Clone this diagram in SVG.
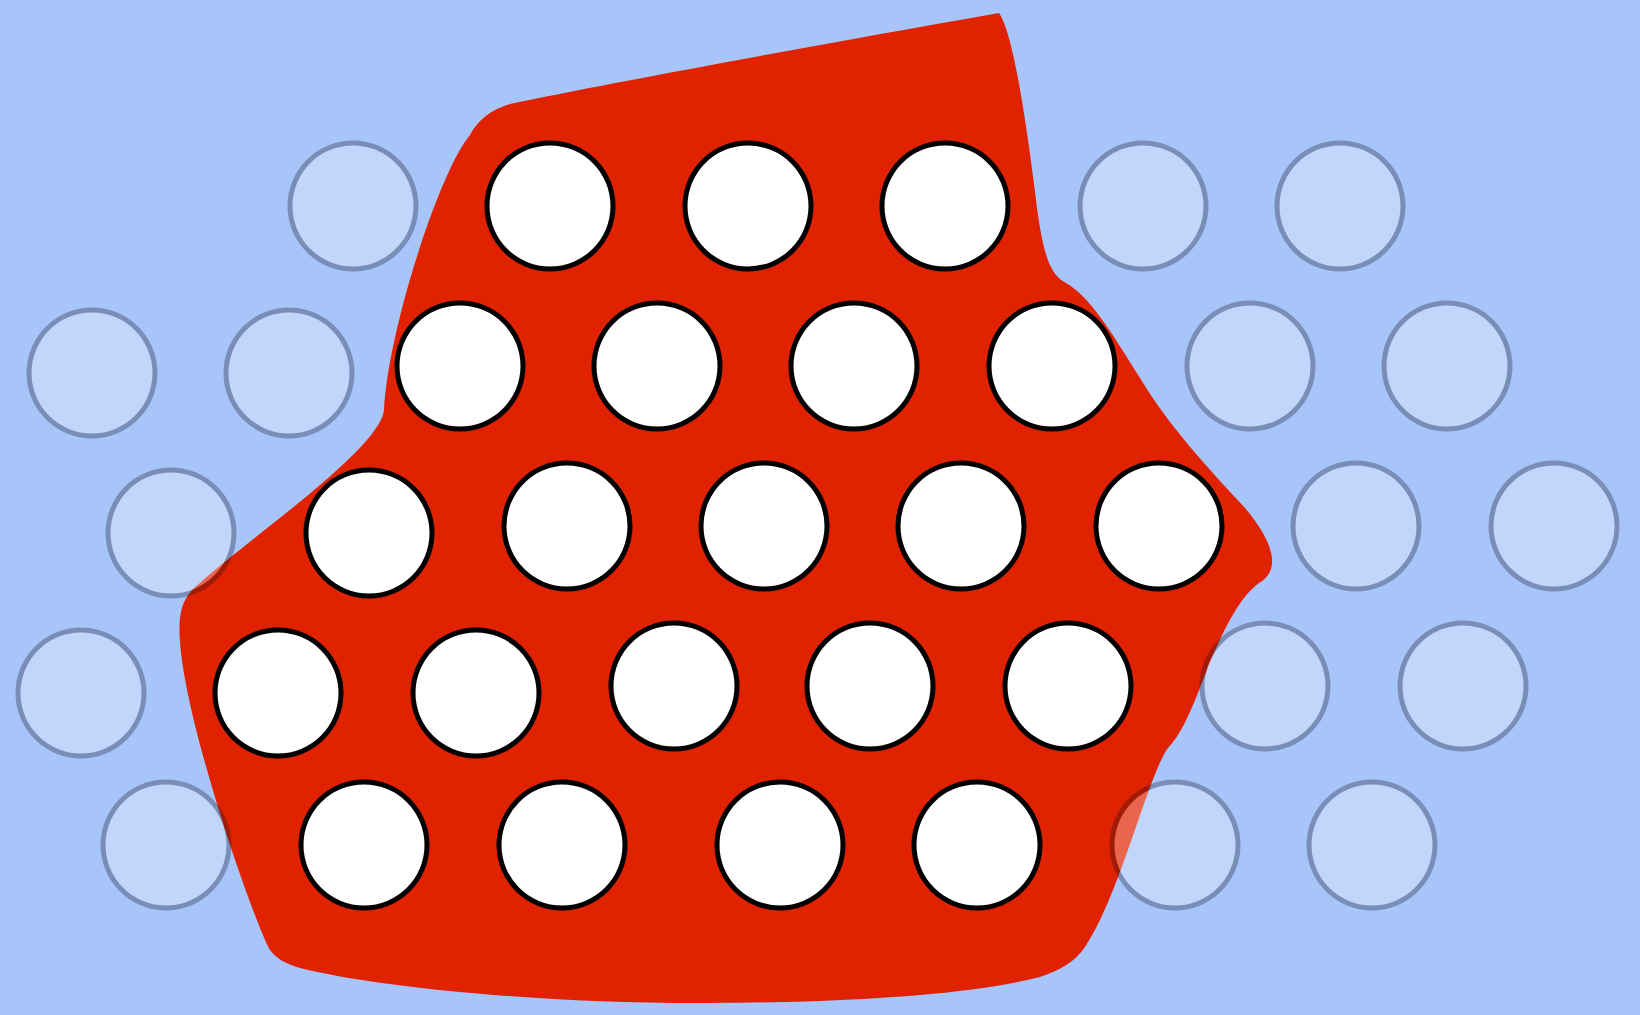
<svg xmlns="http://www.w3.org/2000/svg" width="1640" height="1015" viewBox="0 0 1640 1015">
<style>
.hole{fill:#ffffff;stroke:#000000;stroke-width:5}
.ghost{fill:#ffffff;stroke:#0f111e;stroke-width:5;opacity:0.3}
</style>
<defs>
<path id="c" d="M 63,0 C 63,8.273 61.37,16.466 58.204,24.109 C 55.038,31.752 50.398,38.698 44.548,44.548 C 38.698,50.398 31.752,55.038 24.109,58.204 C 16.466,61.37 8.273,63 0,63 C -8.273,63 -16.466,61.37 -24.109,58.204 C -31.752,55.038 -38.698,50.398 -44.548,44.548 C -50.398,38.698 -55.038,31.752 -58.204,24.109 C -61.37,16.466 -63,8.273 -63,0 C -63,-8.273 -61.37,-16.466 -58.204,-24.109 C -55.038,-31.752 -50.398,-38.698 -44.548,-44.548 C -38.698,-50.398 -31.752,-55.038 -24.109,-58.204 C -16.466,-61.37 -8.273,-63 0,-63 C 8.273,-63 16.466,-61.37 24.109,-58.204 C 31.752,-55.038 38.698,-50.398 44.548,-44.548 C 50.398,-38.698 55.038,-31.752 58.204,-24.109 C 61.37,-16.466 63,-8.273 63,0 Z"/>
</defs>
<rect x="0" y="0" width="1640" height="1015" fill="#a8c5fa"/>
<g id="board">
<path fill="#e02200" d="M 999,13 C 1015,35 1030,150 1038,215 C 1044,255 1050,275 1066,283 C 1090,297 1110,330 1140,378 C 1170,428 1210,470 1245,508 C 1268,535 1285,568 1259,583 C 1240,597 1226,625 1210,662 C 1195,700 1185,730 1168,748 C 1148,775 1120,895 1085,947 C 1075,962 1060,970 1040,977 C 980,992 880,1002 711,1003 C 550,1004 380,988 300,968 C 285,963 278,960 270,950 C 255,925 172,690 180,618 C 182,602 188,592 200,583 C 240,545 380,450 384,410 C 388,330 440,170 470,135 C 478,120 490,110 510,104 C 600,85 800,48 999,13 Z"/>
</g>
<g id="holes">
<use href="#c" class="hole" x="550" y="206"/>
<use href="#c" class="hole" x="748" y="206"/>
<use href="#c" class="hole" x="945" y="206"/>
<use href="#c" class="hole" x="460" y="366"/>
<use href="#c" class="hole" x="657" y="366"/>
<use href="#c" class="hole" x="854" y="366"/>
<use href="#c" class="hole" x="1052" y="366"/>
<use href="#c" class="hole" x="369" y="533"/>
<use href="#c" class="hole" x="567" y="526"/>
<use href="#c" class="hole" x="764" y="526"/>
<use href="#c" class="hole" x="961" y="526"/>
<use href="#c" class="hole" x="1159" y="526"/>
<use href="#c" class="hole" x="278" y="693"/>
<use href="#c" class="hole" x="476" y="693"/>
<use href="#c" class="hole" x="674" y="686"/>
<use href="#c" class="hole" x="870" y="686"/>
<use href="#c" class="hole" x="1068" y="686"/>
<use href="#c" class="hole" x="364" y="845"/>
<use href="#c" class="hole" x="562" y="845"/>
<use href="#c" class="hole" x="780" y="845"/>
<use href="#c" class="hole" x="977" y="845"/>
</g>
<g id="ghosts">
<use href="#c" class="ghost" x="353" y="206"/>
<use href="#c" class="ghost" x="1143" y="206"/>
<use href="#c" class="ghost" x="1340" y="206"/>
<use href="#c" class="ghost" x="92" y="373"/>
<use href="#c" class="ghost" x="289" y="373"/>
<use href="#c" class="ghost" x="1250" y="366"/>
<use href="#c" class="ghost" x="1447" y="366"/>
<use href="#c" class="ghost" x="171" y="533"/>
<use href="#c" class="ghost" x="1356" y="526"/>
<use href="#c" class="ghost" x="1554" y="526"/>
<use href="#c" class="ghost" x="81" y="693"/>
<use href="#c" class="ghost" x="1265" y="686"/>
<use href="#c" class="ghost" x="1463" y="686"/>
<use href="#c" class="ghost" x="166" y="845"/>
<use href="#c" class="ghost" x="1175" y="845"/>
<use href="#c" class="ghost" x="1372" y="845"/>
</g>
</svg>
